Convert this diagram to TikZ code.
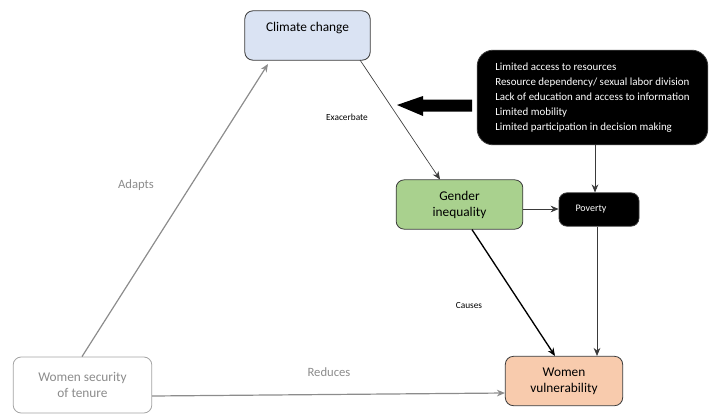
\documentclass[tikz,border=0pt]{standalone}
\usepackage{fontspec}
\setmainfont{Carlito}
\usetikzlibrary{arrows.meta}
\definecolor{cblue}{HTML}{DAE3F3}
\definecolor{cgreen}{HTML}{A9D18E}
\definecolor{corange}{HTML}{F8CBAD}
\definecolor{cgray}{HTML}{8C8C8C}
\definecolor{cborder}{HTML}{3A3A3A}
\tikzset{
  box/.style={draw=cborder, rounded corners=6pt, line width=0.6pt, align=center, inner sep=0pt},
  lbl/.style={font=\fontsize{7}{8}\selectfont},
  arr/.style={-{Stealth[length=6pt,width=5pt]}, line width=0.5pt},
}
\begin{document}
\begin{tikzpicture}[x=0.75pt,y=-0.75pt]
\useasboundingbox (0,0) rectangle (711,415);
\node[box, fill=cblue, minimum width=94pt, minimum height=37pt, font=\fontsize{10}{12}\selectfont] (cc) at (307.5,35.5) {Climate change\\[-2pt]\strut};
\node[box, fill=black, rounded corners=12pt, minimum width=173pt, minimum height=71pt, text=white, align=left, font=\fontsize{8.2}{11.25}\selectfont] (bb) at (592.5,97.5) {Limited access to resources\\Resource dependency/ sexual labor division\\Lack of education and access to information\\Limited mobility\\Limited participation in decision making};
\node[box, fill=cgreen, minimum width=95pt, minimum height=37pt, font=\fontsize{10}{12}\selectfont] (gi) at (459.5,204.5) {Gender\\inequality};
\node[box, fill=black, minimum width=60pt, minimum height=25pt, text=white, font=\fontsize{7.5}{9}\selectfont] (pv) at (599,209.5) {Poverty\hspace*{12pt}};
\node[box, fill=corange, minimum width=88pt, minimum height=37pt, font=\fontsize{10}{12}\selectfont] (wv) at (564,381) {Women\\vulnerability};
\node[box, draw=cgray!80, fill=white, text=cgray, minimum width=104pt, minimum height=42pt, font=\fontsize{10}{12}\selectfont] (ws) at (82.5,385) {Women security\\of tenure};
% fat arrow
\fill (472,99.5) -- (423,99.5) -- (423,96) -- (397,105) -- (423,116) -- (423,111.5) -- (472,111.5) -- cycle;
% connectors
\coordinate (c1) at (360,60);
\draw[arr, draw=cborder] (c1) -- (gi.north -| 440,0);
\draw[arr, draw=cborder] (gi.east |- 0,209) -- (pv.west |- 0,209);
\draw[arr, draw=cborder] (bb.south -| 595,0) -- (pv.north -| 595,0);
\draw[arr, draw=cborder] (pv.south -| 597,0) -- (wv.north -| 597,0);
\draw[arr, line width=1pt] (gi.south -| 472,0) -- (wv.north -| 555,0);
\draw[arr, draw=cgray, line width=0.9pt] (ws.east |- 0,396) -- (wv.west |- 0,393);
\draw[arr, draw=cgray, line width=0.9pt] (ws.north -| 82,0) -- (268,64);
% labels
\node[font=\fontsize{9.5}{11}\selectfont, text=cgray] (la) at (136,185) {Adapts};
\node[lbl] (le) at (347,117) {Exacerbate};
\node[lbl] (lc) at (469,305) {Causes};
\node[font=\fontsize{9.5}{11}\selectfont, text=cgray] (lr) at (329,372) {Reduces};
\end{tikzpicture}
\end{document}
